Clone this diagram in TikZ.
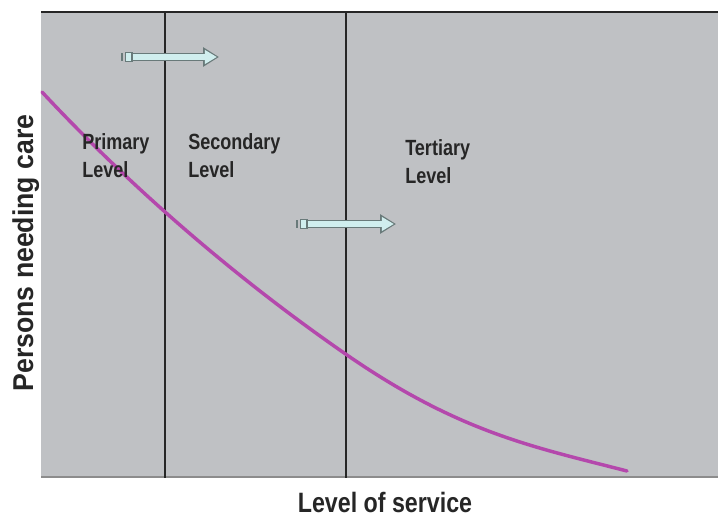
\documentclass[tikz,border=0pt]{standalone}
\usepackage{fontspec}
\usepackage{tikz}
\usetikzlibrary{arrows.meta,positioning}
\newfontfamily\levelfont[FakeStretch=0.82]{Liberation Sans}
\newfontfamily\axisfont[FakeStretch=0.83]{Liberation Sans}
\newfontfamily\yaxisfont[FakeStretch=0.93]{Liberation Sans}
\definecolor{panel}{RGB}{191,193,196}
\definecolor{curvecol}{RGB}{180,72,172}
\definecolor{arrowfill}{RGB}{208,238,238}
\definecolor{arrowedge}{RGB}{105,122,122}
\tikzstyle{level} = [anchor=base west, inner sep=0pt, align=left, font=\levelfont\bfseries\fontsize{16.5}{19.5}\selectfont, text=black!85]
\tikzstyle{arrowout} = [line width=6.2pt, arrowedge, -{Triangle[length=12pt,width=14pt]}]
\tikzstyle{arrowin} = [line width=3.8pt, arrowfill, shorten >=1.6pt, -{Triangle[length=9pt,width=10pt]}]

\begin{document}
\begin{tikzpicture}[x=0.75pt,y=-0.75pt]
            \useasboundingbox (0,0) rectangle (718,518);
            \fill[panel] (41,12) rectangle (718,478);
            \draw[line width=1.5pt, black!85] (41,12) -- (718,12);
            \draw[line width=1.5pt, black!45] (41,477) -- (718,477);
            % level boundaries
            \draw[line width=1.1pt, black!85] (165,12) -- (165,478);
            \draw[line width=1.1pt, black!85] (346,12) -- (346,478);
            % demand curve
            \draw[line width=2.6pt, curvecol, line cap=round] (42,92) .. controls (139,196) and (247,286) .. (347,355) .. controls (460,433) and (534,447) .. (627,471);
            % shift arrows
            \coordinate (topstart) at (130,57);
            \coordinate (topend) at (219,57);
            \coordinate (lowstart) at (305,224);
            \coordinate (lowend) at (396,224);
            \draw[arrowout] (topstart) -- (topend);
            \draw[arrowin] (topstart) -- (topend);
            \draw[arrowout] (lowstart) -- (lowend);
            \draw[arrowin] (lowstart) -- (lowend);
            \draw[line width=1.1pt, arrowedge] (122,53) -- (122,61);
            \draw[line width=1pt, arrowedge, fill=arrowfill] (125.5,52.5) rectangle (132,61.5);
            \draw[line width=1.1pt, arrowedge] (297,220) -- (297,228);
            \draw[line width=1pt, arrowedge, fill=arrowfill] (300.5,219.5) rectangle (307,228.5);
            % labels
            \node[level] (primary) at (82,177) {Primary\\[1pt]Level};
            \node[level] (secondary) at (188,177) {Secondary\\[1pt]Level};
            \node[level] (tertiary) at (405,183) {Tertiary\\[1pt]Level};
            \node[anchor=base, inner sep=0pt, font=\axisfont\bfseries\fontsize{21}{24}\selectfont, text=black!85] (xlabel) at (385,512) {Level of service};
            \node[anchor=base, inner sep=0pt, rotate=90, font=\yaxisfont\bfseries\fontsize{21.5}{24}\selectfont, text=black!85] (ylabel) at (33,253) {Persons needing care};
        \end{tikzpicture}
\end{document}
